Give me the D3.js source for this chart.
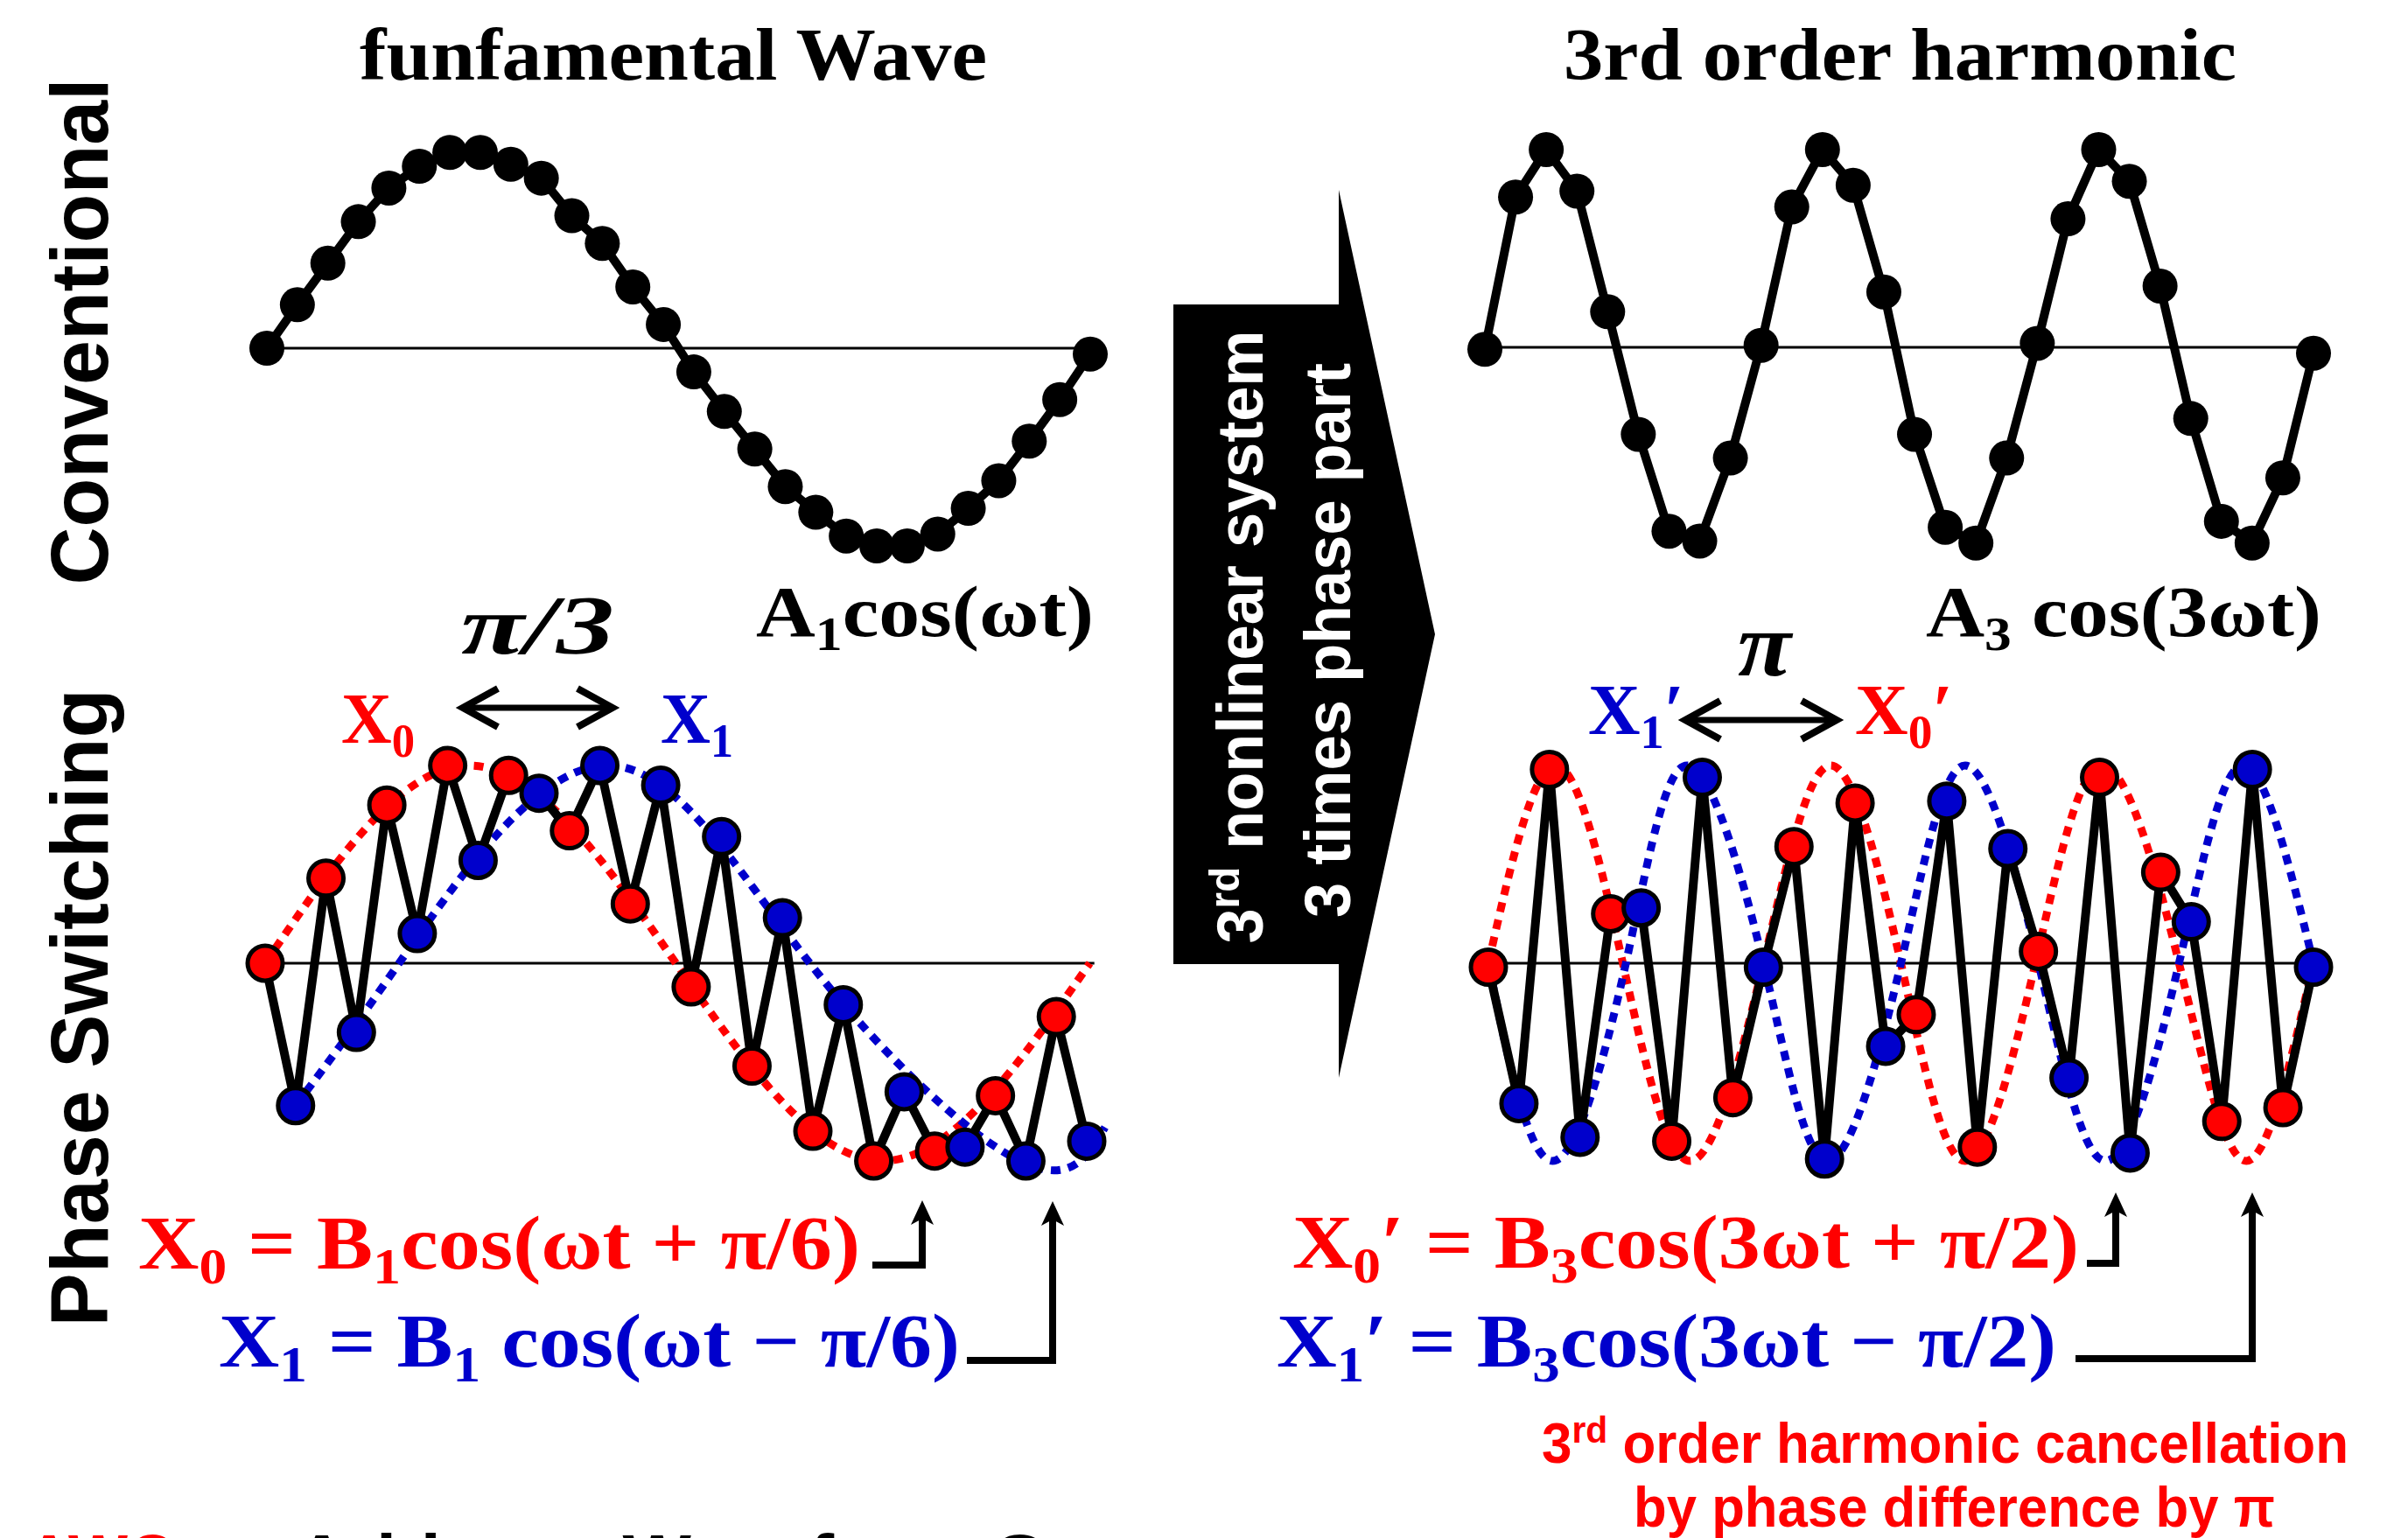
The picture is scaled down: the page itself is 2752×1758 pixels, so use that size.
<!DOCTYPE html>
<html>
<head>
<meta charset="utf-8">
<script src="https://cdn.jsdelivr.net/npm/d3@7/dist/d3.min.js"></script>
<style>
  html, body { margin: 0; padding: 0; background: #fff; }
  svg { display: block; }
</style>
</head>
<body>
<svg id="chart" width="2752" height="1758"></svg>
<script>
// 28 samples per wave, index 0..27
const samples = d3.range(28);

// conventional: fundamental A1cos(wt) and 3rd order harmonic A3cos(3wt)
const fundamental = [0, 0.22, 0.43, 0.64, 0.81, 0.92, 0.99, 0.99, 0.93, 0.86, 0.67, 0.53, 0.31, 0.12,
  -0.12, -0.32, -0.51, -0.70, -0.83, -0.95, -1.0, -1.0, -0.94, -0.81, -0.67, -0.47, -0.26, -0.03];
const harmonic3 = [-0.01, 0.76, 1.0, 0.79, 0.18, -0.44, -0.93, -0.98, -0.56, 0.01, 0.71, 1.0, 0.82, 0.28,
  -0.44, -0.91, -0.99, -0.56, 0.02, 0.65, 1.0, 0.84, 0.31, -0.36, -0.88, -0.99, -0.66, -0.03];

// phase switching: samples alternate X0 (even index) / X1 (odd index)
const switchedFund = [0, -0.72, 0.43, -0.35, 0.80, 0.15, 1.0, 0.52, 0.95, 0.86, 0.67, 1.0, 0.30, 0.90,
  -0.12, 0.64, -0.52, 0.23, -0.85, -0.21, -1.0, -0.65, -0.95, -0.93, -0.67, -1.0, -0.27, -0.90];
const switched3 = [-0.02, -0.71, 0.98, -0.88, 0.25, 0.28, -0.90, 0.94, -0.68, -0.02, 0.59, -0.99, 0.81, -0.42,
  -0.26, 0.82, -0.93, 0.58, 0.06, -0.58, 0.94, -0.96, 0.46, 0.21, -0.80, 0.98, -0.73, -0.02];

// dotted envelopes [sample position, value] read at start, peaks, zero crossings, troughs, end
const x0Fund = [[0, 0], [6.7, 1], [13.5, 0], [20.3, -1], [27.1, 0]];
const x1Fund = [[1, -0.72], [4.4, 0], [11.1, 1], [17.9, 0], [24.8, -1], [27.6, -0.83]];
const x0Harm = [[0, 0], [2.2, 1], [4.4, 0], [6.6, -1], [9, 0], [11.2, 1], [13.5, 0], [15.6, -1],
  [17.9, 0], [20.1, 1], [22.6, 0], [24.8, -1], [27, 0]];
const x1Harm = [[0, 0], [2.1, -1], [4.5, 0], [6.5, 1], [9, 0], [11.1, -1], [13.5, 0], [15.6, 1],
  [18, 0], [20.2, -1], [22.6, 0], [24.7, 1], [27, 0]];

const RED = "#ff0000";
const BLUE = "#0000cc";
const SERIF = "'Liberation Serif', 'Times New Roman', serif";
const SANS = "'Liberation Sans', Arial, sans-serif";
const NARROW = "'Liberation Sans Narrow', 'Arial Narrow', 'Liberation Sans', sans-serif";

const svg = d3.select("#chart");

function panel(x0, x1, base) {
  return {
    x: d3.scaleLinear().domain([0, 27]).range([x0, x1]),
    y: d3.scaleLinear().domain([-1, 1]).range([base + 226, base - 226])
  };
}

function drawWave(p, values, opts) {
  const g = svg.append("g");
  const lastT = opts.baseEnd || 27;
  g.append("line")
    .attr("x1", p.x(0)).attr("x2", p.x(lastT))
    .attr("y1", p.y(0)).attr("y2", p.y(0))
    .attr("stroke", "#000").attr("stroke-width", 3);

  (opts.envelopes || []).forEach(function (env) {
    const curve = d3.line()
      .x(function (d) { return p.x(d[0]); })
      .y(function (d) { return p.y(d[1]); })
      .curve(d3.curveNatural);
    g.append("path")
      .attr("d", curve(env.knots))
      .attr("fill", "none")
      .attr("stroke", env.color)
      .attr("stroke-width", 9)
      .attr("stroke-dasharray", "11 9");
  });

  const line = d3.line()
    .x(function (d, i) { return p.x(samples[i]); })
    .y(function (d) { return p.y(d); });
  g.append("path")
    .attr("d", line(values))
    .attr("fill", "none")
    .attr("stroke", "#000")
    .attr("stroke-width", 10)
    .attr("stroke-linejoin", "bevel");

  g.selectAll("circle")
    .data(values)
    .enter()
    .append("circle")
    .attr("cx", function (d, i) { return p.x(samples[i]); })
    .attr("cy", function (d) { return p.y(d); })
    .attr("r", opts.switched ? 20 : 20)
    .attr("fill", function (d, i) { return opts.switched ? (i % 2 === 0 ? RED : BLUE) : "#000"; })
    .attr("stroke", "#000")
    .attr("stroke-width", opts.switched ? 5 : 0);
}

drawWave(panel(305, 1246, 398), fundamental, {});
drawWave(panel(1697, 2644, 397), harmonic3, {});
drawWave(panel(303, 1242, 1101), switchedFund, {
  switched: true, baseEnd: 27.25,
  envelopes: [{ knots: x0Fund, color: RED }, { knots: x1Fund, color: BLUE }]
});
drawWave(panel(1701, 2644, 1101), switched3, {
  switched: true,
  envelopes: [{ knots: x0Harm, color: RED }, { knots: x1Harm, color: BLUE }]
});

// big black arrow in the middle
svg.append("path")
  .attr("d", "M1341,348 H1530 V217 L1640,725 L1530,1232 V1102 H1341 Z")
  .attr("fill", "#000");

// text with sub / superscript parts
function richText(x, y, parts, o) {
  const t = svg.append("text")
    .attr("x", x).attr("y", y)
    .attr("font-family", o.family || SERIF)
    .attr("font-weight", "bold")
    .attr("font-style", o.italic ? "italic" : "normal")
    .attr("font-size", o.size)
    .attr("fill", o.color || "#000")
    .attr("text-anchor", o.anchor || "start");
  if (o.len) t.attr("textLength", o.len).attr("lengthAdjust", "spacingAndGlyphs");
  if (o.rotate) t.attr("transform", "rotate(-90 " + x + " " + y + ")");
  let shift = 0;
  parts.forEach(function (p) {
    const str = typeof p === "string" ? p : p[0];
    const kind = typeof p === "string" ? null : p[1];
    const target = kind === "sub" ? o.size * 0.2 : kind === "sup" ? -o.size * 0.36 : 0;
    t.append("tspan")
      .attr("dy", target - shift)
      .attr("font-size", kind ? o.size * 0.66 : o.size)
      .text(str);
    shift = target;
  });
  return t;
}

// titles
richText(411, 91, ["funfamental Wave"], { size: 84, len: 717 });
richText(1787, 91, ["3rd order harmonic"], { size: 84, len: 769 });

// row labels
richText(123, 379, ["Conventional"], { family: SANS, size: 92, len: 579, rotate: true, anchor: "middle" });
richText(123, 1152, ["Phase Switching"], { family: SANS, size: 92, len: 729, rotate: true, anchor: "middle" });

// arrow text
richText(1443, 728, ["3", ["rd", "sup"], " nonlinear system"],
  { family: NARROW, size: 74, len: 701, rotate: true, anchor: "middle", color: "#fff" });
richText(1543, 732, ["3 times phase part"],
  { family: NARROW, size: 74, len: 634, rotate: true, anchor: "middle", color: "#fff" });

// amplitude labels
richText(864, 727, ["A", ["1", "sub"], "cos(\u03c9t)"], { size: 82, len: 386 });
richText(2201, 727, ["A", ["3", "sub"], " cos(3\u03c9t)"], { size: 82, len: 452 });

// phase-difference annotations
richText(527, 747, ["\u03c0/3"], { size: 96, len: 175, italic: true });
richText(1986, 772, ["\u03c0"], { size: 104, len: 61, italic: true });

richText(390, 849, ["X", ["0", "sub"]], { size: 82, len: 84, color: RED });
richText(755, 849, ["X", ["1", "sub"]], { size: 82, len: 83, color: BLUE });
richText(1815, 839, ["X", ["1", "sub"], "\u2032"], { size: 82, len: 110, color: BLUE });
richText(2120, 839, ["X", ["0", "sub"], "\u2032"], { size: 82, len: 112, color: RED });

function doubleArrow(xa, xb, y) {
  svg.append("line").attr("x1", xa + 5).attr("x2", xb - 5).attr("y1", y).attr("y2", y)
    .attr("stroke", "#000").attr("stroke-width", 7);
  [[xa, 1], [xb, -1]].forEach(function (e) {
    svg.append("polyline")
      .attr("points", [[e[0] + e[1] * 40, y - 22], [e[0], y], [e[0] + e[1] * 40, y + 22]].join(" "))
      .attr("fill", "none").attr("stroke", "#000").attr("stroke-width", 8)
      .attr("stroke-linejoin", "miter").attr("stroke-miterlimit", 10);
  });
}
doubleArrow(529, 700, 809);
doubleArrow(1926, 2099, 823);

// equations
richText(158, 1450, ["X", ["0", "sub"], " = B", ["1", "sub"], "cos(\u03c9t + \u03c0/6)"], { size: 86, len: 825, color: RED });
richText(250, 1562, ["X", ["1", "sub"], " = B", ["1", "sub"], " cos(\u03c9t \u2212 \u03c0/6)"], { size: 86, len: 847, color: BLUE });
richText(1477, 1449, ["X", ["0", "sub"], "\u2032 = B", ["3", "sub"], "cos(3\u03c9t + \u03c0/2)"], { size: 86, len: 899, color: RED });
richText(1459, 1562, ["X", ["1", "sub"], "\u2032 = B", ["3", "sub"], "cos(3\u03c9t \u2212 \u03c0/2)"], { size: 86, len: 891, color: BLUE });

// elbow arrows from equations up to the samples
function elbow(xStart, xCorner, y, tip) {
  svg.append("path")
    .attr("d", "M" + xStart + "," + y + " H" + xCorner + " V" + (tip + 18))
    .attr("fill", "none").attr("stroke", "#000").attr("stroke-width", 8)
    .attr("stroke-linejoin", "miter");
  svg.append("path")
    .attr("d", "M" + xCorner + "," + tip + " L" + (xCorner - 13) + "," + (tip + 28) +
      " L" + xCorner + "," + (tip + 21) + " L" + (xCorner + 13) + "," + (tip + 28) + " Z")
    .attr("fill", "#000");
}
elbow(997, 1054, 1446, 1372);
elbow(1105, 1203, 1555, 1373);
elbow(2385, 2418, 1444, 1363);
elbow(2372, 2574, 1553, 1363);

// conclusion
richText(1762, 1672, ["3", ["rd", "sup"], " order harmonic cancellation"], { family: NARROW, size: 64, len: 922, color: RED });
richText(1867, 1745, ["by phase difference by \u03c0"], { family: NARROW, size: 64, len: 733, color: RED });

// footnote cut off by the bottom edge, as in the original figure
richText(30, 1810, ["AWG"], { family: SANS, size: 80, len: 172, color: RED });
richText(290, 1810, [": Arbitrary Waveform Generator"], { family: SANS, size: 80, len: 1240 });
</script>
</body>
</html>
